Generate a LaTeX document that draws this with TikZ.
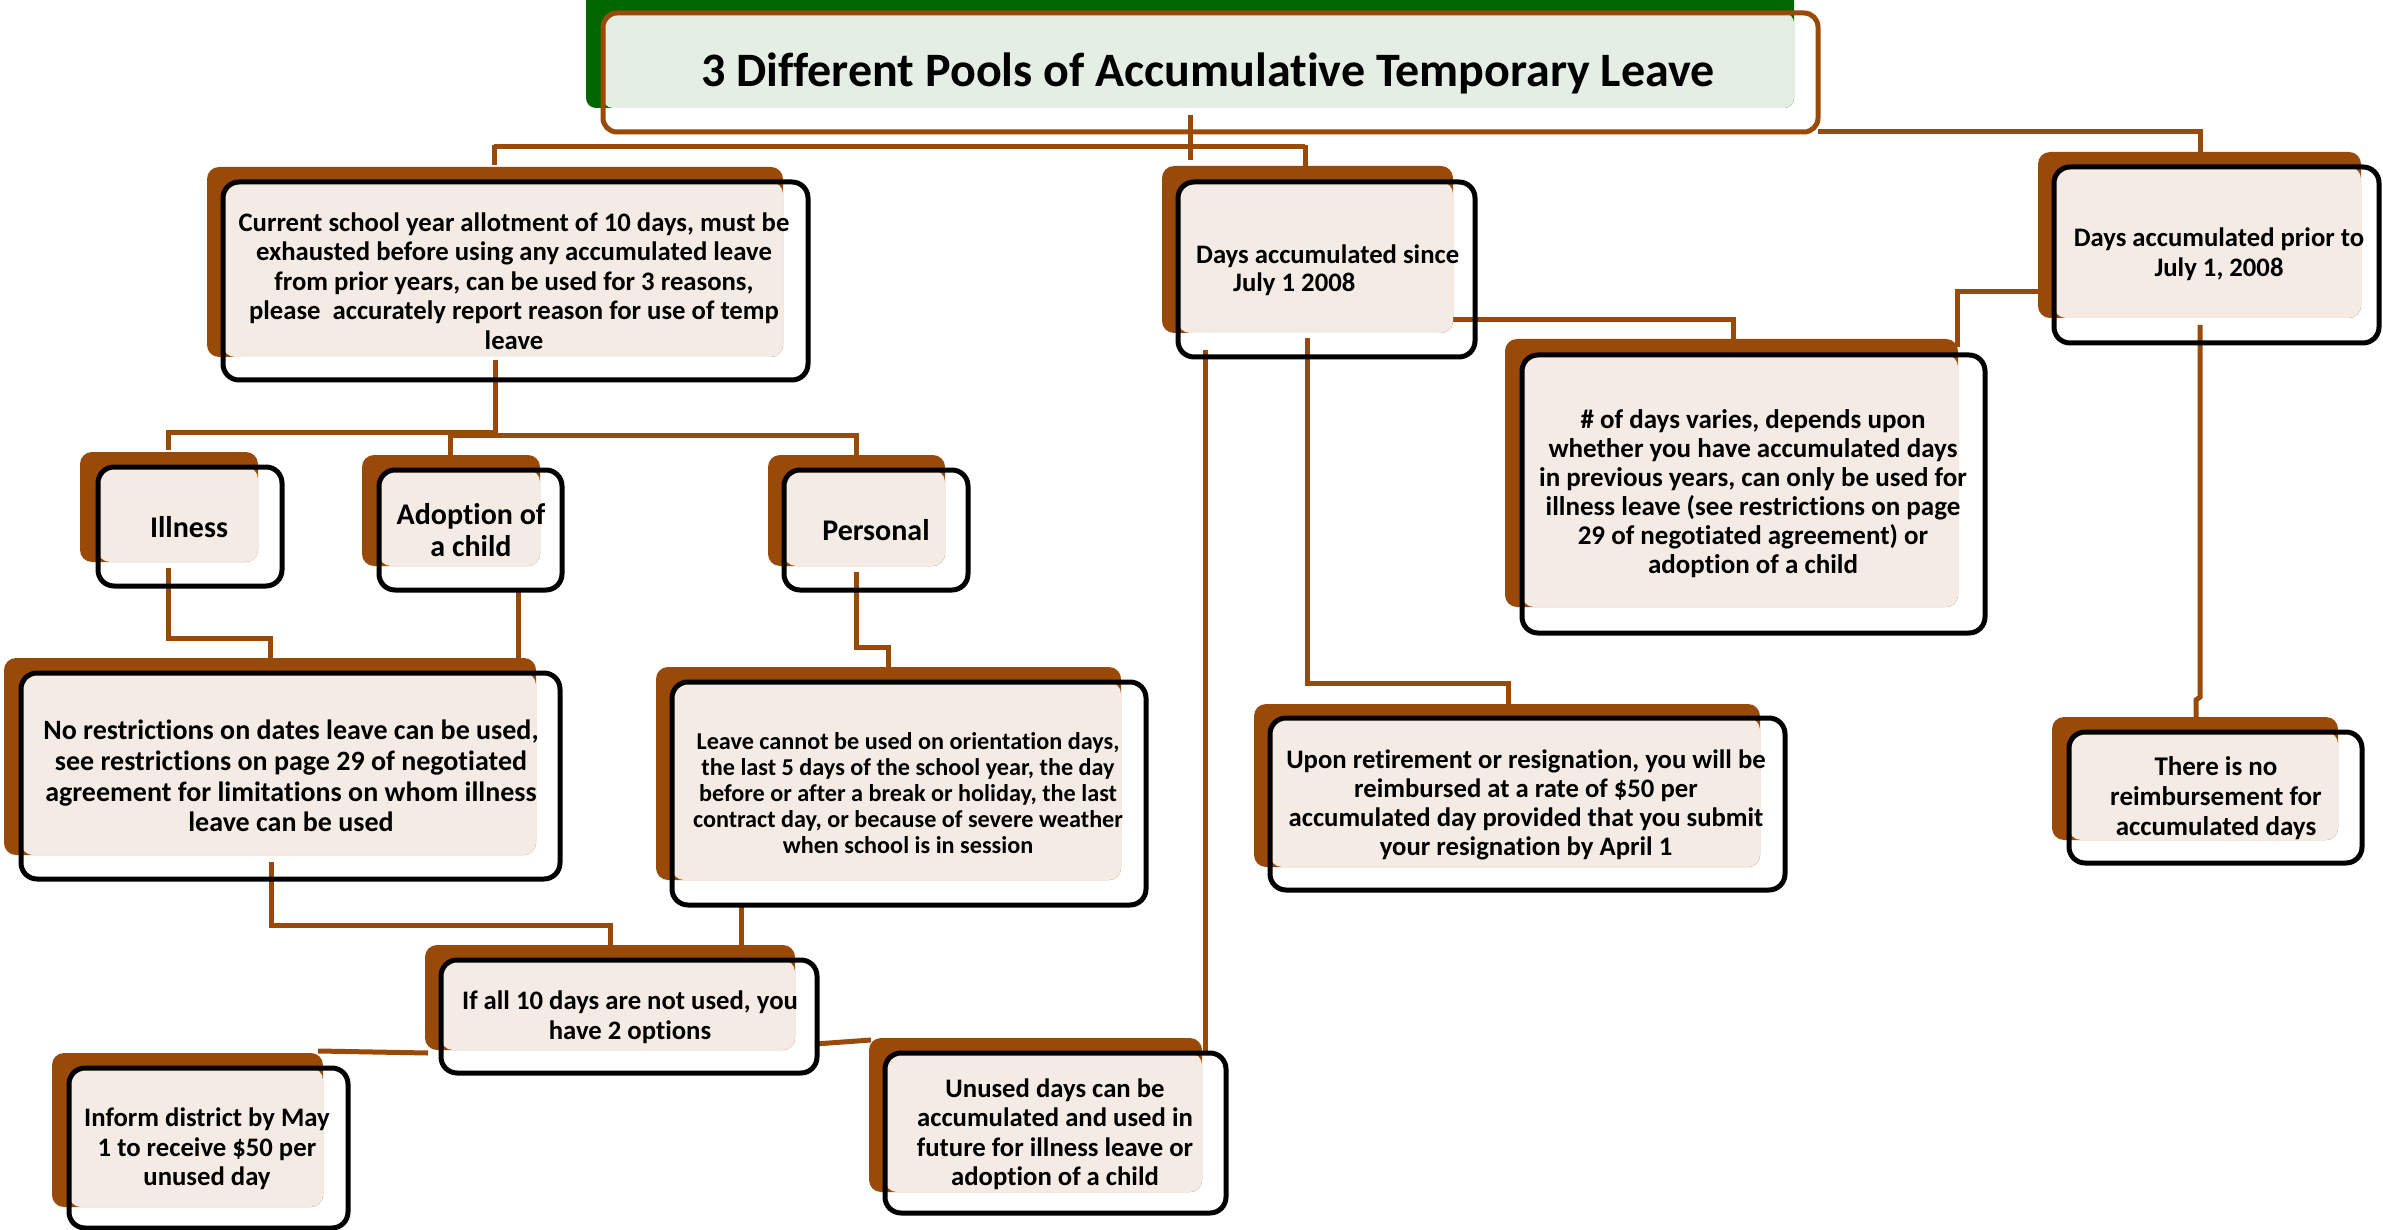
\documentclass[tikz,border=0pt]{standalone}
\usepackage{fontspec}
\setmainfont{Carlito}[RawFeature={-liga}]
\definecolor{backc}{RGB}{153,74,8}
\definecolor{creamc}{RGB}{244,235,228}
\definecolor{titlefill}{RGB}{228,238,228}
\definecolor{greenc}{RGB}{0,102,0}
% #1 name, #2..#5 back rect, #6..#9 outline rect
\newcommand\pbox[9]{%
  \fill[backc,rounded corners=12pt] (#2,#3) rectangle (#4,#5);
  \fill[creamc,rounded corners=12pt] (#6,#7) rectangle (#4,#5);
  \draw[outl] (#6,#7) rectangle (#8,#9);
  \coordinate (#1) at ($(#6,#7)!0.5!(#8,#9)$);
}
\usetikzlibrary{calc}
\begin{document}
\begin{tikzpicture}[x=1pt,y=-1pt,
  conn/.style={draw=backc,line width=5pt},
  outl/.style={draw=black,line width=5pt,rounded corners=16pt},
  txt/.style={inner sep=0pt,align=center,font=\bfseries\fontsize{26.7}{29.5}\selectfont},
]
\useasboundingbox (0,0) rectangle (2383,1230);

% ---------- connectors (behind boxes) ----------
\coordinate (tb) at (1190,115);
\draw[conn] (tb) -- (1190,160);
\draw[conn] (494,147) -- (1305,147);
\draw[conn] (494,145) -- (494,165);
\draw[conn] (1305,145) -- (1305,166);
\draw[conn] (1818,132) -- (2200,132) -- (2200,152);
% box1 -> reasons
\draw[conn] (495,360) -- (495,434);
\draw[conn] (168,450) -- (168,432) -- (497,432);
\draw[conn] (450,455) -- (450,435) -- (856,435) -- (856,455);
% reasons -> detail boxes
\draw[conn] (168,568) -- (168,638) -- (270,638) -- (270,658);
\draw[conn] (518,590) -- (518,660);
\draw[conn] (856,572) -- (856,647) -- (888,647) -- (888,667);
% details -> if all
\draw[conn] (271,862) -- (271,925) -- (610,925) -- (610,945);
\draw[conn] (741,905) -- (741,945);
\draw[conn] (318,1051) -- (428,1053);
\draw[conn] (815,1044) -- (871,1040);
% days since
\draw[conn] (1205,350) -- (1205,1053);
\draw[conn] (1307,338) -- (1307,683) -- (1508,683) -- (1508,704);
\draw[conn] (1453,320) -- (1733,320) -- (1733,339);
% days prior
\draw[conn] (2038,292) -- (1957,292) -- (1957,347);
\draw[conn] (2200,325) -- (2200,697) -- (2196,700) -- (2196,717);

% ---------- title ----------
\fill[greenc,rounded corners=10pt] (586,-12) rectangle (1794,108);
\fill[titlefill,rounded corners=10pt] (603,13) rectangle (1794,108);
\draw[draw=backc,line width=5pt,rounded corners=14pt] (603,13) rectangle (1818,132);
\node[txt,font=\bfseries\fontsize{48}{56}\selectfont] (title) at (1208,73) {3 Different Pools of Accumulative Temporary Leave};

% ---------- boxes ----------
\pbox{b1}{207}{167}{783}{357}{223}{182}{808}{380}
\node[txt] (t1) at (514,281) {Current school year allotment of 10 days, must be\\exhausted before using any accumulated leave\\from prior years, can be used for 3 reasons,\\please\ \ accurately report reason for use of temp\\leave};

\pbox{bs}{1162}{166}{1453}{333}{1178}{182}{1475}{357}
\node[txt,align=left,anchor=west,font=\bfseries\fontsize{26.7}{28}\selectfont] (ts) at (1196,270) {Days accumulated since\\\hspace*{37pt}July 1 2008};

\pbox{bp}{2038}{152}{2361}{318}{2054}{167}{2379}{343}
\node[txt] (tp) at (2219,254) {Days accumulated prior to\\July 1, 2008};

\pbox{bi}{80}{452}{258}{562}{98}{467}{282}{586}
\node[txt,font=\bfseries\fontsize{30}{32}\selectfont] (ti) at (189,527) {Illness};

\pbox{ba}{362}{455}{540}{566}{379}{470}{562}{590}
\node[txt,font=\bfseries\fontsize{30}{32}\selectfont] (ta) at (471,530) {Adoption of\\a child};

\pbox{bpe}{768}{455}{945}{566}{784}{470}{968}{590}
\node[txt,font=\bfseries\fontsize{30}{32}\selectfont] (tpe) at (876,530) {Personal};

\pbox{bn}{4}{658}{536}{855}{21}{673}{560}{879}
\node[txt,font=\bfseries\fontsize{28}{30.7}\selectfont] (tn) at (291,776) {No restrictions on dates leave can be used,\\see restrictions on page 29 of negotiated\\agreement for limitations on whom illness\\leave can be used};

\pbox{bl}{656}{667}{1121}{880}{672}{682}{1146}{905}
\node[txt,font=\bfseries\fontsize{24.2}{26.2}\selectfont] (tl) at (908,793) {Leave cannot be used on orientation days,\\the last 5 days of the school year, the day\\before or after a break or holiday, the last\\contract day, or because of severe weather\\when school is in session};

\pbox{bf}{425}{945}{795}{1050}{441}{960}{817}{1073}
\node[txt] (tf) at (630,1017) {If all 10 days are not used, you\\have 2 options};

\pbox{bm}{52}{1053}{323}{1207}{69}{1068}{348}{1228}
\node[txt] (tm) at (207,1149) {Inform district by May\\1 to receive \$50 per\\unused day};

\pbox{bu}{869}{1038}{1202}{1192}{885}{1053}{1226}{1213}
\node[txt] (tu) at (1055,1134) {Unused days can be\\accumulated and used in\\future for illness leave or\\adoption of a child};

\pbox{bd}{1505}{339}{1958}{607}{1522}{355}{1985}{633}
\node[txt,font=\bfseries\fontsize{27}{29}\selectfont] (td) at (1753,494) {\# of days varies, depends upon\\whether you have accumulated days\\in previous years, can only be used for\\illness leave (see restrictions on page\\29 of negotiated agreement) or\\adoption of a child};

\pbox{br}{1254}{704}{1760}{867}{1270}{718}{1785}{890}
\node[txt,font=\bfseries\fontsize{26.7}{29}\selectfont] (tr) at (1526,805) {Upon retirement or resignation, you will be\\reimbursed at a rate of \$50 per\\accumulated day provided that you submit\\your resignation by April 1};

\pbox{bt}{2052}{717}{2338}{840}{2069}{732}{2362}{863}
\node[txt,font=\bfseries\fontsize{27}{30}\selectfont] (tt) at (2216,798) {There is no\\reimbursement for\\accumulated days};
\end{tikzpicture}
\end{document}
